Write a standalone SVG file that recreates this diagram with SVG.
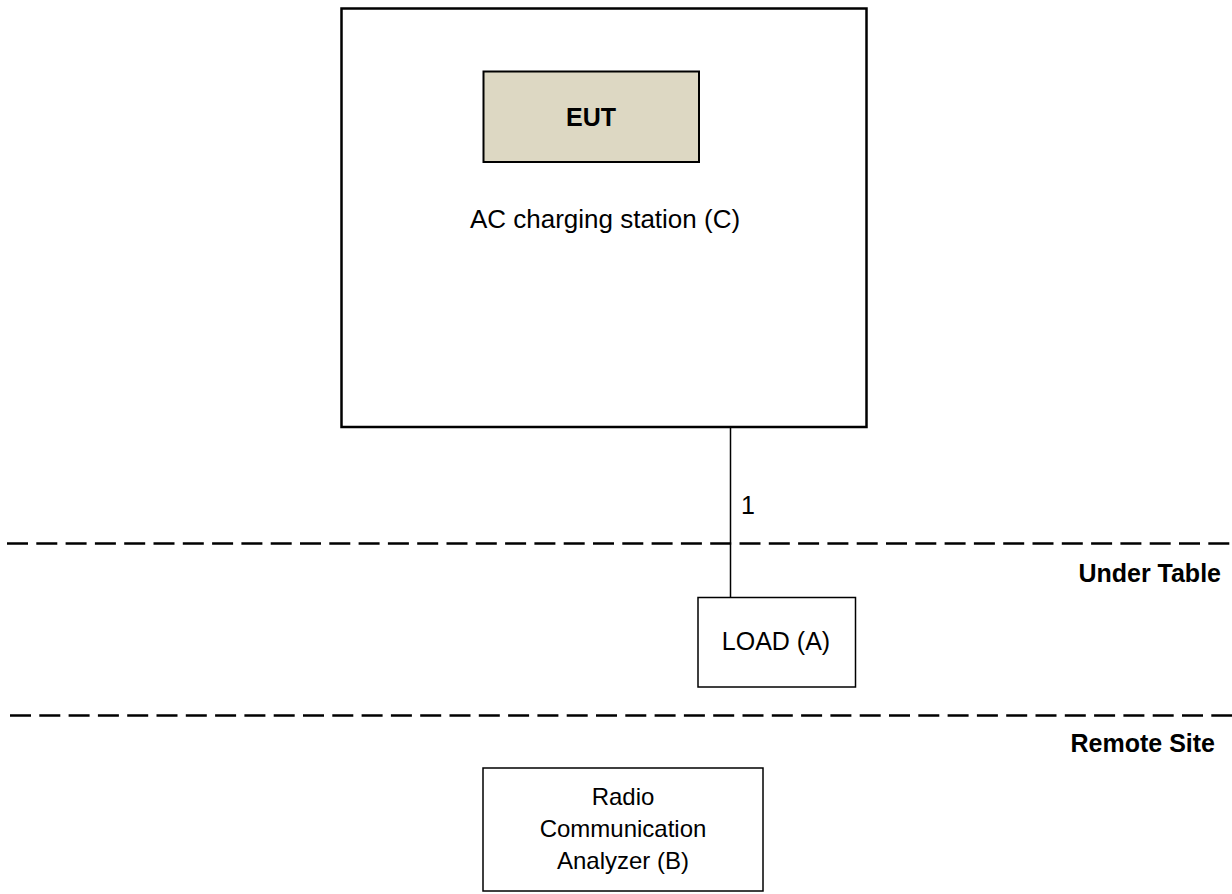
<svg xmlns="http://www.w3.org/2000/svg" width="1232" height="894" viewBox="0 0 1232 894">
<style>
.t{font-family:"Liberation Sans",Arial,sans-serif;fill:#000;}
.b{font-weight:bold;}
.box{fill:#fff;stroke:#000;}
.dash{stroke:#000;stroke-width:2.5;stroke-dasharray:21 8.3;fill:none;}
</style>
<rect width="1232" height="894" fill="#fff"/>
<g id="station">
<rect class="box" x="341.5" y="8.5" width="525" height="418.5" stroke-width="2.5"/>
<text class="t" x="605" y="228" font-size="26" text-anchor="middle">AC charging station (C)</text>
</g>
<g id="eut">
<rect x="483.5" y="71.5" width="215.5" height="90.5" fill="#DDD8C3" stroke="#000" stroke-width="2"/>
<text class="t b" x="591" y="126" font-size="25" text-anchor="middle">EUT</text>
</g>
<g id="connectors">
<line x1="730.5" y1="427" x2="730.5" y2="597" stroke="#000" stroke-width="1.5"/>
<text class="t" x="741" y="514" font-size="25">1</text>
</g>
<g id="zones">
<line class="dash" x1="7" y1="543.5" x2="1232" y2="543.5"/>
<text class="t b" x="1221" y="582" font-size="25" text-anchor="end">Under Table</text>
<line class="dash" x1="10" y1="715.5" x2="1232" y2="715.5"/>
<text class="t b" x="1215" y="752" font-size="25" text-anchor="end">Remote Site</text>
</g>
<g id="load">
<rect class="box" x="698" y="597.5" width="157.5" height="89.5" stroke-width="1.5"/>
<text class="t" x="776" y="650" font-size="25" text-anchor="middle">LOAD (A)</text>
</g>
<g id="analyzer">
<rect class="box" x="483" y="768" width="280" height="123" stroke-width="1.5"/>
<text class="t" x="623" y="805" font-size="24" text-anchor="middle">Radio</text>
<text class="t" x="623" y="837" font-size="24" text-anchor="middle">Communication</text>
<text class="t" x="623" y="869" font-size="24" text-anchor="middle">Analyzer (B)</text>
</g>
</svg>
